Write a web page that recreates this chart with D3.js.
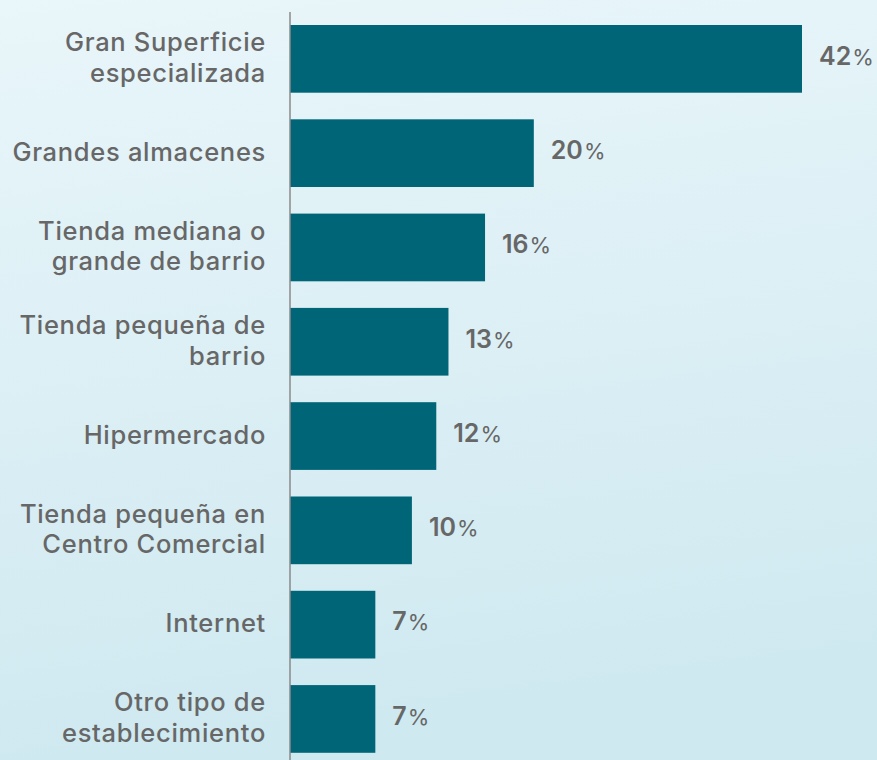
<!DOCTYPE html>
<html>
<head>
<meta charset="utf-8">
<script src="https://cdn.jsdelivr.net/npm/d3@7"></script>
<style>
  html, body { margin: 0; padding: 0; }
  body { width: 877px; height: 760px; overflow: hidden; }
  svg { display: block; }
</style>
</head>
<body>
<svg id="chart" width="877" height="760"></svg>
<script>
// Tipo de establecimiento de compra (%)
const categories = [
  "Gran Superficie\nespecializada",
  "Grandes almacenes",
  "Tienda mediana o\ngrande de barrio",
  "Tienda pequeña de\nbarrio",
  "Hipermercado",
  "Tienda pequeña en\nCentro Comercial",
  "Internet",
  "Otro tipo de\nestablecimiento"
];
const values = [42, 20, 16, 13, 12, 10, 7, 7];

const W = 877, H = 760;
const svg = d3.select("#chart");

// background wash
const defs = svg.append("defs");
const grad = defs.append("linearGradient")
  .attr("id", "bg").attr("x1", 0).attr("y1", 0).attr("x2", 0.15).attr("y2", 1);
grad.append("stop").attr("offset", "0%").attr("stop-color", "#e9f6fa");
grad.append("stop").attr("offset", "100%").attr("stop-color", "#cfe9f0");
svg.append("rect").attr("width", W).attr("height", H).attr("fill", "url(#bg)");

const x0 = 290;
const x = d3.scaleLinear().domain([0, 42]).range([x0, 802]);
const y = d3.scaleBand().domain(categories).range([25, 752.8])
  .paddingInner(0.282).paddingOuter(0);

const fontFamily = "Inter, 'Liberation Sans', Arial, sans-serif";
const textColor = "#676767";
const barColor = "#006677";

// bars
svg.append("g").selectAll("rect")
  .data(categories)
  .join("rect")
  .attr("x", x(0))
  .attr("y", d => y(d))
  .attr("width", (d, i) => x(values[i]) - x(0))
  .attr("height", y.bandwidth())
  .attr("fill", barColor);

// category axis with multi-line labels
const axis = svg.append("g")
  .attr("transform", `translate(${x0},0)`)
  .call(d3.axisLeft(y).tickSize(0).tickPadding(24));
axis.select(".domain").remove();
axis.selectAll(".tick text")
  .attr("fill", textColor)
  .style("font-family", fontFamily)
  .style("font-size", "25.5px")
  .style("font-weight", "500")
  .style("letter-spacing", "0.7px")
  .attr("dy", null)
  .each(function (d) {
    const lines = d.split("\n");
    const t = d3.select(this).text(null);
    const lh = 30.5;
    const start = -((lines.length - 1) * lh) / 2;
    lines.forEach((ln, i) => {
      t.append("tspan")
        .attr("x", -24)
        .attr("y", start + i * lh - 1)
        .attr("dy", "0.34em")
        .text(ln);
    });
  });

// vertical axis line
svg.append("line")
  .attr("x1", x0).attr("x2", x0)
  .attr("y1", 12).attr("y2", H)
  .attr("stroke", "#8a8a8a").attr("stroke-width", 1.5);

// value labels
const lbl = svg.append("g").selectAll("text")
  .data(categories)
  .join("text")
  .attr("x", (d, i) => x(values[i]) + 17)
  .attr("y", d => y(d) + y.bandwidth() / 2)
  .attr("dy", "0.36em")
  .attr("fill", textColor)
  .style("font-family", fontFamily);
lbl.append("tspan")
  .style("font-size", "25px").style("font-weight", "600")
  .text((d, i) => values[i]);
lbl.append("tspan")
  .attr("dx", 1)
  .style("font-size", "22px").style("font-weight", "400")
  .text("%");
</script>
</body>
</html>
